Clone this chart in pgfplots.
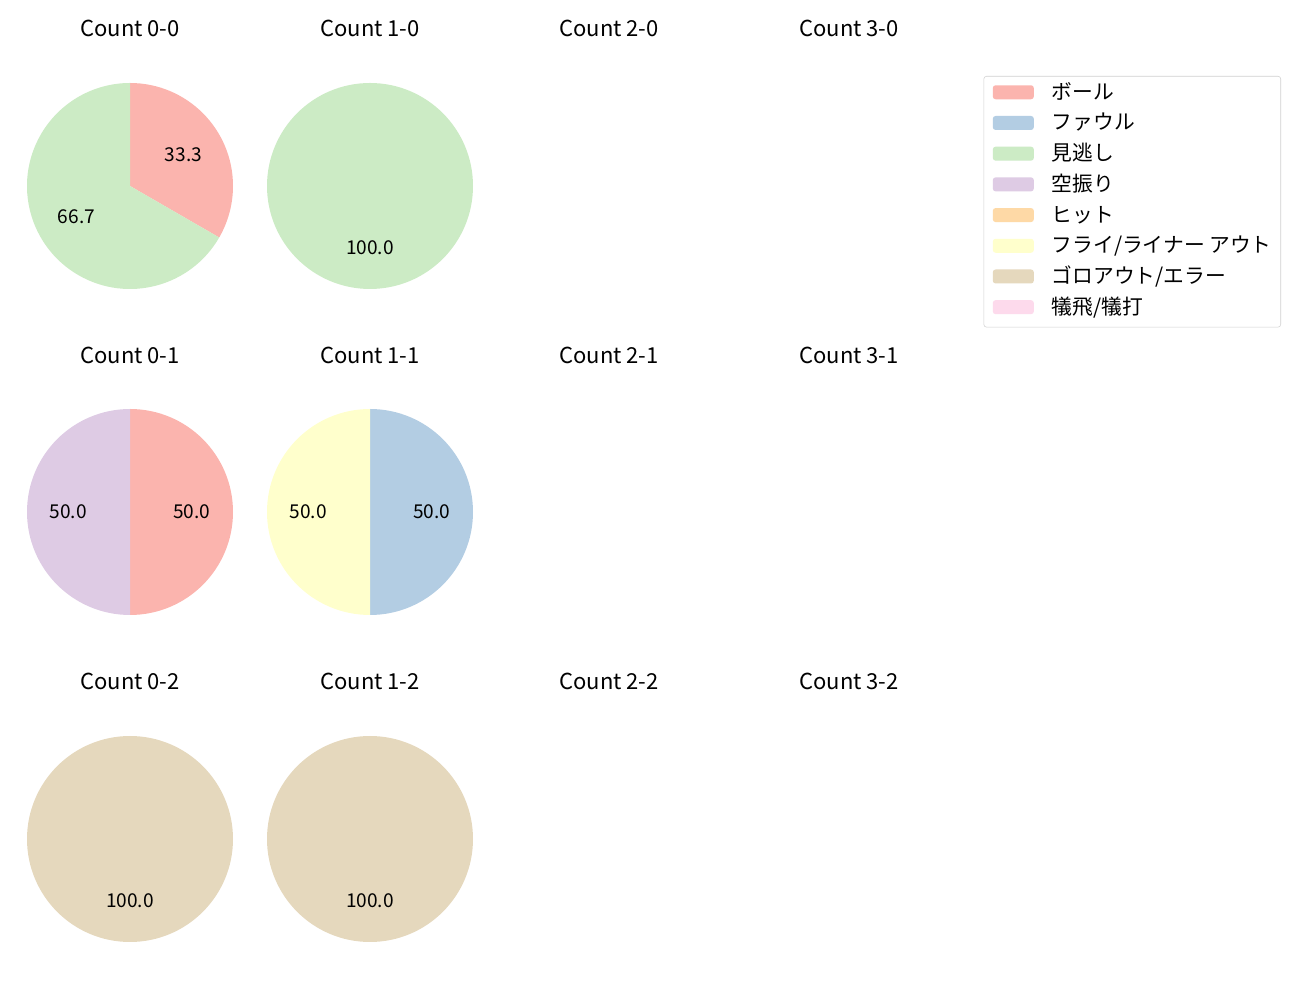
\documentclass[border=0pt]{standalone}
\usepackage{pgfplots}
\pgfplotsset{compat=1.18}
\usepackage{fontspec}
\setmainfont{Noto Sans CJK JP}

\definecolor{ball}{HTML}{FBB4AE}
\definecolor{foul}{HTML}{B3CDE3}
\definecolor{miss}{HTML}{CCEBC5}
\definecolor{swing}{HTML}{DECBE4}
\definecolor{hit}{HTML}{FED9A6}
\definecolor{fly}{HTML}{FFFFCC}
\definecolor{gro}{HTML}{E5D8BD}
\definecolor{bunt}{HTML}{FDDAEC}

% wedge: colour, start angle, end angle, share (%); clockwise from 90 deg
\newcommand{\slice}[4]{%
  \fill[#1] (axis cs:0,0) -- (axis cs:{cos(#2)},{sin(#2)})
    arc[start angle=#2, end angle=#3, radius=1.03in] -- cycle;
  \node[font=\fontsize{13.8}{16}\selectfont] at (axis cs:{0.6*cos((#2+#3)/2)},{0.6*sin((#2+#3)/2)}) {#4};
}
\newcommand{\whole}[2]{%
  \fill[#1] (axis cs:0,0) circle[radius=1.03in];
  \node[font=\fontsize{13.8}{16}\selectfont] at (axis cs:0,-0.6) {#2};
}
\pgfplotsset{pie/.style={x=1.03in, y=1.03in, xmin=-1, xmax=1, ymin=-1, ymax=1,
  hide axis, clip=false, anchor=center}}

\begin{document}
\begin{tikzpicture}
\path[use as bounding box] (0,0) rectangle (13in,10in);

% titles
\foreach \c/\x in {0/1.30, 1/3.70, 2/6.09, 3/8.49}
  \foreach \r/\y in {0/9.715, 1/6.445, 2/3.185}
    \node[font=\fontsize{15.9}{18}\selectfont] at (\x in,\y in) {Count \c-\r};

% row 0
\begin{axis}[pie, at={(1.30in,8.14in)}]
  \slice{ball}{90}{-30}{33.3}
  \slice{miss}{-30}{-270}{66.7}
\end{axis}
\begin{axis}[pie, at={(3.70in,8.14in)}]
  \whole{miss}{100.0}
\end{axis}
% row 1
\begin{axis}[pie, at={(1.30in,4.88in)}]
  \slice{ball}{90}{-90}{50.0}
  \slice{swing}{-90}{-270}{50.0}
\end{axis}
\begin{axis}[pie, at={(3.70in,4.88in)}]
  \slice{foul}{90}{-90}{50.0}
  \slice{fly}{-90}{-270}{50.0}
\end{axis}
% row 2
\begin{axis}[pie, at={(1.30in,1.61in)}]
  \whole{gro}{100.0}
\end{axis}
\begin{axis}[pie, at={(3.70in,1.61in)}]
  \whole{gro}{100.0}
\end{axis}

% legend
\begin{axis}[scale only axis, width=1in, height=1in, hide axis,
  xmin=0, xmax=1, ymin=0, ymax=1,
  at={(12.81in,9.24in)}, anchor=north east,
  legend image code/.code={\fill[#1, draw=none] (0in,-0.07in) rectangle (0.41in,0.07in);},
  legend cell align=left,
  legend style={at={(1,1)}, anchor=north east, draw=black!18, rounded corners=2pt,
    font=\fontsize{15}{17}\selectfont, inner xsep=0.09in, inner ysep=0.09in,
    row sep=0.127in, column sep=0pt,
    nodes={inner sep=0pt, text height=0.1in, text depth=0.04in, yshift=-0.04in},
    /tikz/every odd column/.append style={column sep=0.18in}}]
  \addlegendimage{fill=ball}\addlegendentry{ボール}
  \addlegendimage{fill=foul}\addlegendentry{ファウル}
  \addlegendimage{fill=miss}\addlegendentry{見逃し}
  \addlegendimage{fill=swing}\addlegendentry{空振り}
  \addlegendimage{fill=hit}\addlegendentry{ヒット}
  \addlegendimage{fill=fly}\addlegendentry{フライ/ライナー アウト}
  \addlegendimage{fill=gro}\addlegendentry{ゴロアウト/エラー}
  \addlegendimage{fill=bunt}\addlegendentry{犠飛/犠打}
\end{axis}
\end{tikzpicture}
\end{document}
